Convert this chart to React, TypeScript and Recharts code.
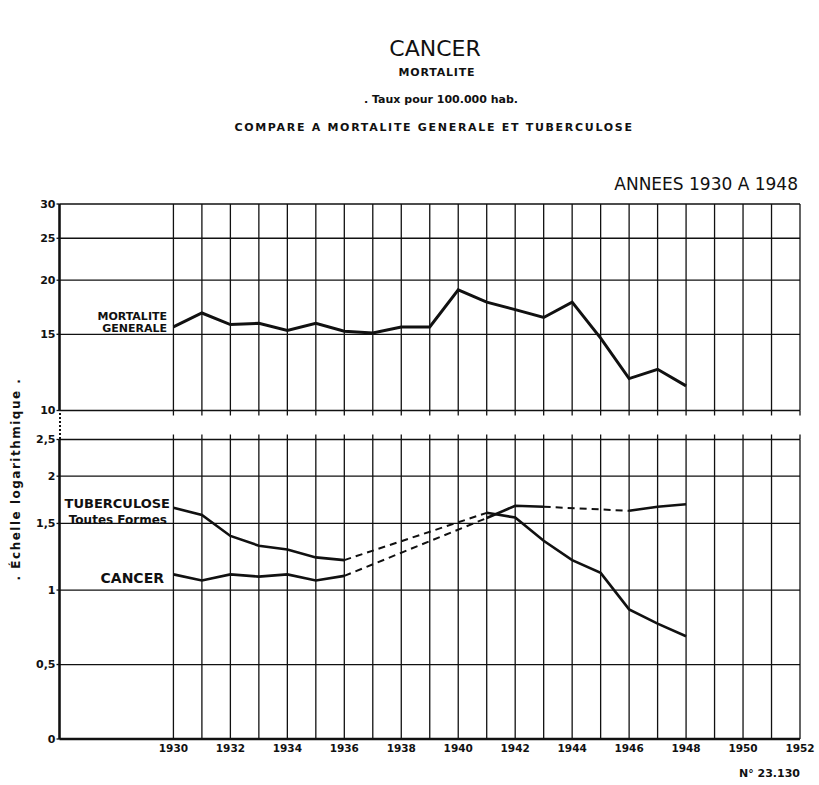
import React from 'react';
import { LineChart, Line, XAxis, YAxis, CartesianGrid } from 'recharts';

// ---------- data ----------
const YEARS = [1930, 1931, 1932, 1933, 1934, 1935, 1936, 1937, 1938, 1939, 1940, 1941, 1942, 1943, 1944, 1945, 1946, 1947, 1948];
const MORTALITE_GENERALE = [15.6, 16.8, 15.8, 15.9, 15.3, 15.9, 15.25, 15.1, 15.6, 15.6, 19.0, 17.8, 17.1, 16.4, 17.8, 14.7, 11.85, 12.45, 11.4];
const TUBERCULOSE = [1.65, 1.58, 1.39, 1.31, 1.28, 1.22, 1.2, null, null, null, null, 1.6, 1.555, 1.35, 1.2, 1.11, 0.87, 0.775, 0.69];
const CANCER = [1.1, 1.06, 1.1, 1.085, 1.1, 1.06, 1.09, null, null, null, null, 1.55, 1.67, 1.66, null, null, 1.62, 1.66, 1.685];

const GRID_YEARS = [1930, 1931, 1932, 1933, 1934, 1935, 1936, 1937, 1938, 1939, 1940, 1941, 1942, 1943, 1944, 1945, 1946, 1947, 1948, 1949, 1950, 1951, 1952];
const X_DOMAIN = [1926, 1952];
const TOP_TICKS = [10, 15, 20, 25, 30];
const BOTTOM_TICKS = [0, 0.5, 1, 1.5, 2, 2.5];
const BOTTOM_TICK_LABELS = ['0', '0,5', '1', '1,5', '2', '2,5'];

// hand-drawn lower scale: linear up to 1, logarithmic above
const LOG_FACTOR = 2.54;
const lowerScale = (v: number) => (v <= 1 ? v : 1 + LOG_FACTOR * Math.log10(v));

const gapBridges = (values: (number | null)[]) => {
  const out: [number, number][] = [];
  let last = -1;
  values.forEach((v, i) => {
    if (v == null) return;
    if (last >= 0 && i - last > 1) out.push([last, i]);
    last = i;
  });
  return out;
};

const TUB_BRIDGES = gapBridges(TUBERCULOSE);
const CAN_BRIDGES = gapBridges(CANCER);

const topData = YEARS.map((year, i) => ({ year, mort: MORTALITE_GENERALE[i] }));

const bottomData = YEARS.map((year, i) => {
  const row: Record<string, number | null> = {
    year,
    tub: TUBERCULOSE[i] == null ? null : lowerScale(TUBERCULOSE[i] as number),
    can: CANCER[i] == null ? null : lowerScale(CANCER[i] as number),
  };
  TUB_BRIDGES.forEach(([a, b], k) => {
    row['tubGap' + k] = i === a || i === b ? lowerScale(TUBERCULOSE[i] as number) : null;
  });
  CAN_BRIDGES.forEach(([a, b], k) => {
    row['canGap' + k] = i === a || i === b ? lowerScale(CANCER[i] as number) : null;
  });
  return row;
});

const FONT = "'DejaVu Sans', 'Liberation Sans', sans-serif";
const INK = '#111';

const YearTick = (props: any) => {
  const { x, y, payload } = props;
  if (payload.value % 2 !== 0) return <g />;
  return (
    <text x={x} y={y} dy={13} textAnchor="middle" fontSize={10.5} fontWeight={700} fontFamily={FONT} fill={INK}>
      {payload.value}
    </text>
  );
};

const EmptyTick = () => <g />;

const lowerTicks = BOTTOM_TICKS.map(lowerScale);
const lowerLabel = (v: number) => {
  const idx = lowerTicks.findIndex((t) => Math.abs(t - v) < 1e-6);
  return idx >= 0 ? BOTTOM_TICK_LABELS[idx] : '';
};

export default function App() {
  return (
    <div style={{ position: 'absolute', left: 0, top: 0, width: 819, height: 785, background: '#fff', fontFamily: FONT }}>
      {/* upper panel: mortalité générale (log scale) */}
      <div style={{ position: 'absolute', left: 0, top: 0 }}>
        <LineChart width={819} height={430} data={topData} margin={{ top: 204, right: 19, left: 0, bottom: 9.5 }}>
          <CartesianGrid stroke={INK} strokeWidth={1.3} fill="none" />
          <XAxis
            dataKey="year"
            type="number"
            domain={X_DOMAIN}
            ticks={GRID_YEARS}
            interval={0}
            allowDataOverflow
            height={10}
            tick={<EmptyTick />}
            axisLine={false}
            tickSize={5}
            tickLine={{ stroke: INK, strokeWidth: 1.3 }}
          />
          <YAxis
            type="number"
            scale="log"
            domain={[10, 30]}
            ticks={TOP_TICKS}
            interval={0}
            allowDataOverflow
            width={59.5}
            axisLine={{ stroke: INK, strokeWidth: 2.5 }}
            tickLine={{ stroke: INK, strokeWidth: 1.3 }}
            tickSize={3}
            tickMargin={1}
            tick={{ fontSize: 11, fontWeight: 700, fill: INK, fontFamily: FONT }}
          />
          <Line type="linear" dataKey="mort" stroke={INK} strokeWidth={3} dot={false} isAnimationActive={false} />
        </LineChart>
      </div>

      {/* dotted break of the vertical axis */}
      <div style={{ position: 'absolute', left: 58.5, top: 413, width: 0, height: 26, borderLeft: '2px dotted #111' }} />

      {/* lower panel: tuberculose & cancer */}
      <div style={{ position: 'absolute', left: 0, top: 420 }}>
        <LineChart width={819} height={365} data={bottomData} margin={{ top: 9.5, right: 19, left: 0, bottom: 26 }}>
          <CartesianGrid stroke={INK} strokeWidth={1.3} fill="none" />
          <XAxis
            xAxisId="top"
            orientation="top"
            dataKey="year"
            type="number"
            domain={X_DOMAIN}
            ticks={GRID_YEARS}
            interval={0}
            allowDataOverflow
            height={10}
            tick={<EmptyTick />}
            axisLine={false}
            tickSize={5}
            tickLine={{ stroke: INK, strokeWidth: 1.3 }}
          />
          <XAxis
            dataKey="year"
            type="number"
            domain={X_DOMAIN}
            ticks={GRID_YEARS}
            interval={0}
            allowDataOverflow
            height={20}
            tickSize={0}
            tickMargin={0}
            tickLine={false}
            axisLine={{ stroke: INK, strokeWidth: 2.5 }}
            tick={<YearTick />}
          />
          <YAxis
            type="number"
            domain={[0, lowerScale(2.5)]}
            ticks={lowerTicks}
            interval={0}
            allowDataOverflow
            width={59.5}
            axisLine={{ stroke: INK, strokeWidth: 2.5 }}
            tickLine={{ stroke: INK, strokeWidth: 1.3 }}
            tickSize={3}
            tickMargin={1}
            tickFormatter={lowerLabel}
            tick={{ fontSize: 11, fontWeight: 700, fill: INK, fontFamily: FONT }}
          />
          <Line type="linear" dataKey="tub" stroke={INK} strokeWidth={2.6} dot={false} isAnimationActive={false} />
          <Line type="linear" dataKey="can" stroke={INK} strokeWidth={2.6} dot={false} isAnimationActive={false} />
          {TUB_BRIDGES.map((_, k) => (
            <Line key={'t' + k} type="linear" dataKey={'tubGap' + k} connectNulls stroke={INK} strokeWidth={2} strokeDasharray="7 5" dot={false} isAnimationActive={false} />
          ))}
          {CAN_BRIDGES.map((_, k) => (
            <Line key={'c' + k} type="linear" dataKey={'canGap' + k} connectNulls stroke={INK} strokeWidth={2} strokeDasharray="7 5" dot={false} isAnimationActive={false} />
          ))}
        </LineChart>
      </div>

      {/* titles and annotations */}
      <svg width={819} height={785} style={{ position: 'absolute', left: 0, top: 0, pointerEvents: 'none' }} fontFamily={FONT} fill={INK}>
        <text x={435} y={56} textAnchor="middle" fontSize={22}>CANCER</text>
        <text x={437} y={76} textAnchor="middle" fontSize={11} fontWeight={700} letterSpacing={0.8}>MORTALITE</text>
        <text x={441} y={103} textAnchor="middle" fontSize={11} fontWeight={700}>. Taux pour 100.000 hab.</text>
        <text x={434} y={131} textAnchor="middle" fontSize={11} fontWeight={700} letterSpacing={1.7}>COMPARE  A  MORTALITE GENERALE  ET  TUBERCULOSE</text>
        <text x={798} y={190} textAnchor="end" fontSize={17}>ANNEES 1930 A 1948</text>

        <text x={167} y={319.5} textAnchor="end" fontSize={11} fontWeight={700}>MORTALITE</text>
        <text x={167} y={331.5} textAnchor="end" fontSize={11} fontWeight={700}>GENERALE</text>

        <text x={170} y={508} textAnchor="end" fontSize={13} fontWeight={700}>TUBERCULOSE</text>
        <text x={167} y={524} textAnchor="end" fontSize={12} fontWeight={700}>Toutes Formes</text>
        <text x={164} y={582.5} textAnchor="end" fontSize={14} fontWeight={700}>CANCER</text>

        <text x={0} y={0} transform="translate(20,479) rotate(-90)" textAnchor="middle" fontSize={12} fontWeight={700} letterSpacing={1.5}>.  Échelle  logarithmique  .</text>

        <text x={800} y={777} textAnchor="end" fontSize={11} fontWeight={700}>N° 23.130</text>
      </svg>
    </div>
  );
}
